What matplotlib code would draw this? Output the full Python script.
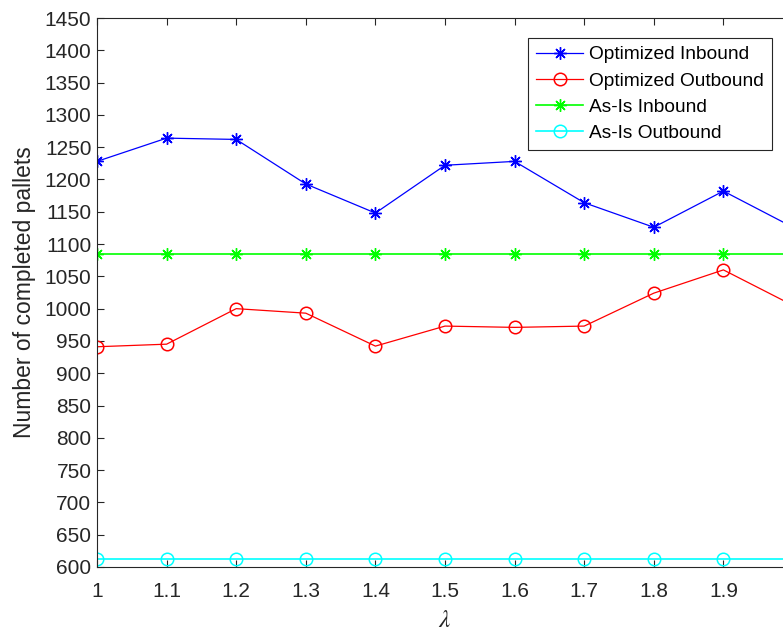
import matplotlib
matplotlib.use("Agg")
import matplotlib.pyplot as plt
from matplotlib.ticker import MultipleLocator

plt.rcParams['font.family'] = ['Liberation Sans', 'DejaVu Sans']
plt.rcParams['mathtext.fontset'] = 'stix'

lam = [1.0, 1.1, 1.2, 1.3, 1.4, 1.5, 1.6, 1.7, 1.8, 1.9, 2.0]
opt_in = [1228, 1264, 1262, 1193, 1148, 1222, 1228, 1164, 1126, 1182, 1126]
opt_out = [941, 945, 1000, 993, 942, 973, 971, 973, 1024, 1060, 1005]
asis_in = [1085] * 11
asis_out = [613] * 11
xtick_vals = [1.0, 1.1, 1.2, 1.3, 1.4, 1.5, 1.6, 1.7, 1.8, 1.9]
xtick_labels = ['1', '1.1', '1.2', '1.3', '1.4', '1.5', '1.6', '1.7', '1.8', '1.9']
labels = ['Optimized Inbound', 'Optimized Outbound', 'As-Is Inbound', 'As-Is Outbound']

W, H = 783, 635
fig = plt.figure(figsize=(W / 100, H / 100), dpi=100)
left, right, top, bottom = 97, 793, 18, 567
ax = fig.add_axes([left / W, 1 - bottom / H, (right - left) / W, (bottom - top) / H])

ast = (8, 2, 0)
ms = 9
ax.plot(lam, opt_in, color='#0000ff', marker=ast, ms=ms, lw=0.9, mew=1.0, label=labels[0])
ax.plot(lam, opt_out, color='#ff0000', marker='o', ms=ms, mfc='none', lw=0.9, mew=1.1, label=labels[1])
ax.plot(lam, asis_in, color='#00ff00', marker=ast, ms=ms, lw=1.2, mew=1.0, label=labels[2])
ax.plot(lam, asis_out, color='#00ffff', marker='o', ms=ms, mfc='none', lw=1.2, mew=1.1, label=labels[3])

ax.set_xlim(1.0, 2.0)
ax.set_ylim(600, 1450)
ax.set_xticks(xtick_vals)
ax.set_xticklabels(xtick_labels)
ax.yaxis.set_major_locator(MultipleLocator(50))

gray = '#262626'
for s in ax.spines.values():
    s.set_color(gray)
    s.set_linewidth(0.8)
ax.tick_params(direction='in', length=5, width=0.8, color=gray, labelcolor=gray,
               labelsize=15, top=True, right=True)
ax.tick_params(axis='y', pad=4)
ax.tick_params(axis='x', pad=11)

ax.set_ylabel('Number of completed pallets', fontsize=16.5, color=gray, labelpad=6)
ax.set_xlabel(r'$\lambda$', fontsize=18, color=gray, labelpad=5)

leg = ax.legend(loc='upper left', bbox_to_anchor=((528 - left) / (right - left), 1 - (38 - top) / (bottom - top)),
                fontsize=13.8, frameon=True, fancybox=False, edgecolor=gray, framealpha=1,
                handlelength=2.45, handletextpad=0.3, labelspacing=0.45, borderpad=0.42,
                borderaxespad=0)
leg.get_frame().set_linewidth(0.8)
for t in leg.get_texts():
    t.set_color('black')

fig.savefig('out.png', dpi=100)
